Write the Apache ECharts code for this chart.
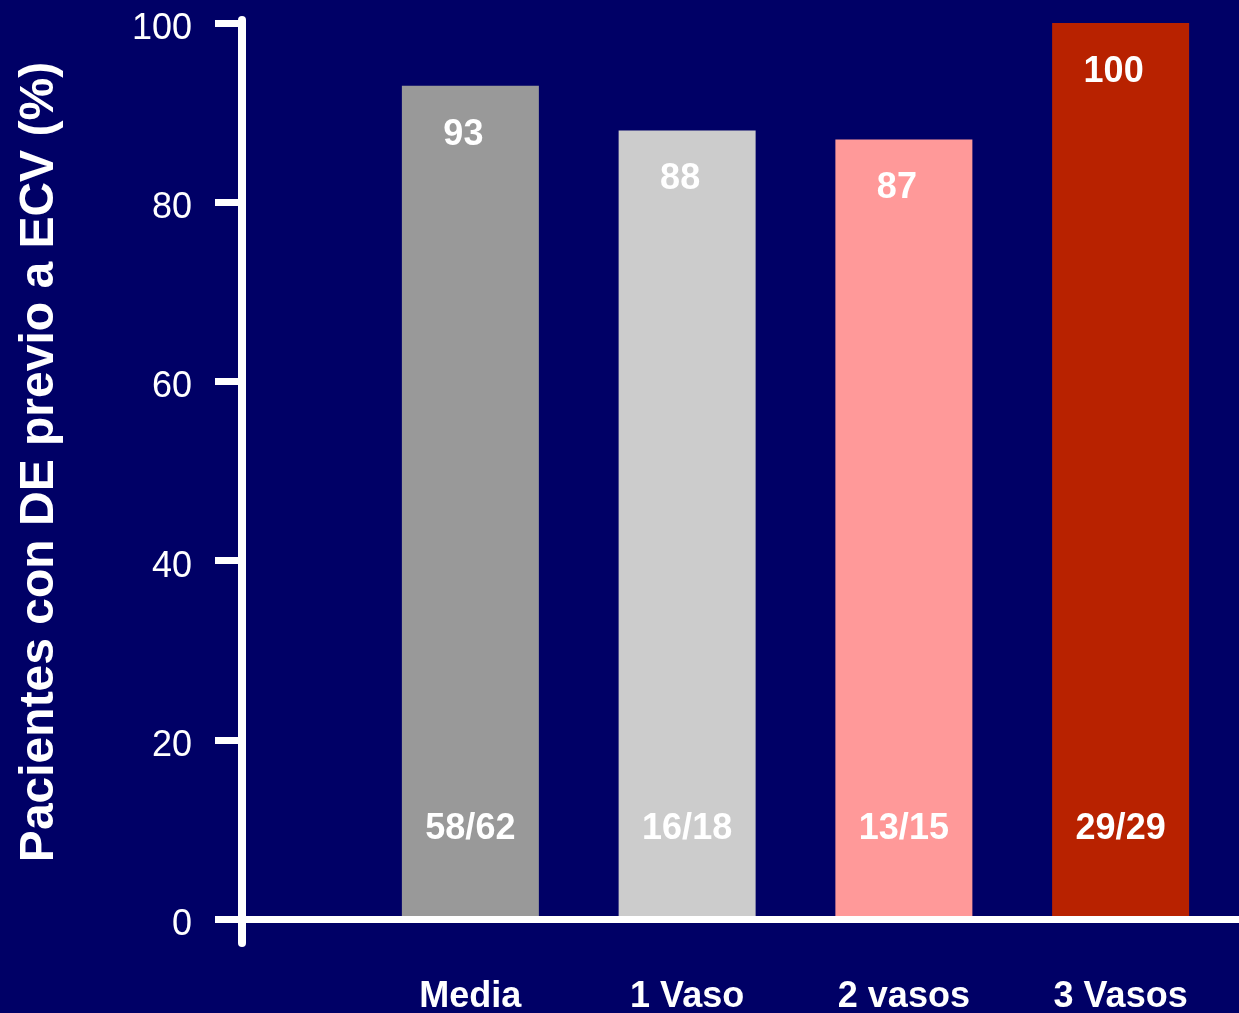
<!DOCTYPE html>
<html>
<head>
<meta charset="utf-8">
<script src="https://cdn.jsdelivr.net/npm/echarts@6/dist/echarts.min.js"></script>
<style>
  html, body { margin: 0; padding: 0; background: #000066; }
  #chart { width: 1239px; height: 1013px; }
</style>
</head>
<body>
<div id="chart"></div>
<script>
// Groups, percentage of patients, and raw counts shown at the foot of each bar
const categories = ['Media', '1 Vaso', '2 vasos', '3 Vasos'];
const percentages = [93, 88, 87, 100];
const fractions = ['58/62', '16/18', '13/15', '29/29'];
const barColors = ['#999999', '#cccccc', '#ff9999', '#b82200'];
const yTicks = [0, 20, 40, 60, 80, 100];

const FONT = '"Liberation Sans", Arial, sans-serif';
const WHITE = '#ffffff';

const chart = echarts.init(document.getElementById('chart'), null, { renderer: 'canvas' });

const option = {
  backgroundColor: '#000066',
  animation: false,
  textStyle: { fontFamily: FONT },
  grid: [
    // frame: y axis with ticks and the baseline
    { left: 242, right: 0, top: 23, bottom: 94, outerBoundsMode: 'none' },
    // bars
    { left: 362, right: 10, top: 23, bottom: 94, outerBoundsMode: 'none' },
    // y axis line running a little past the baseline
    { left: 242, right: 0, top: 20, bottom: 70, outerBoundsMode: 'none' }
  ],
  xAxis: [
    {
      gridIndex: 0, type: 'category', data: [''], z: 10,
      axisLine: { show: true, lineStyle: { color: WHITE, width: 7 } },
      axisTick: { show: false }, axisLabel: { show: false }, splitLine: { show: false }
    },
    {
      gridIndex: 1, type: 'category', data: categories,
      axisLine: { show: false }, axisTick: { show: false },
      axisLabel: {
        color: WHITE, fontFamily: FONT, fontWeight: 'bold', fontSize: 36, margin: 60
      }
    },
    { gridIndex: 2, type: 'category', data: [''], show: false }
  ],
  yAxis: [
    {
      gridIndex: 0, type: 'value', min: yTicks[0], max: yTicks[yTicks.length - 1],
      interval: yTicks[1] - yTicks[0], z: 10,
      name: 'Pacientes con DE previo a ECV (%)',
      nameLocation: 'middle', nameGap: 178, nameRotate: 90,
      nameTextStyle: {
        color: WHITE, fontFamily: FONT, fontWeight: 'bold', fontSize: 48,
        padding: [0, 0, 0, 18]
      },
      axisLine: { show: true, lineStyle: { color: WHITE, width: 8 } },
      axisTick: { show: true, inside: false, length: 27, lineStyle: { color: WHITE, width: 7 } },
      axisLabel: {
        color: WHITE, fontFamily: FONT, fontSize: 36, margin: 50,
        formatter: v => '{t|' + v + '}',
        rich: {
          t: { color: WHITE, fontFamily: FONT, fontSize: 36, padding: [12, 0, 0, 0] }
        }
      },
      splitLine: { show: false }
    },
    { gridIndex: 1, type: 'value', min: 0, max: 100, show: false },
    {
      gridIndex: 2, type: 'value', min: 0, max: 1,
      axisLine: { show: true, lineStyle: { color: WHITE, width: 8 } },
      axisTick: { show: false }, axisLabel: { show: false }, splitLine: { show: false }
    }
  ],
  series: [
    {
      type: 'bar', xAxisIndex: 1, yAxisIndex: 1,
      barWidth: 137,
      data: percentages.map((v, i) => ({ value: v, itemStyle: { color: barColors[i] } })),
      label: {
        show: true, position: 'insideTop', distance: 31, offset: [-7, 0],
        color: WHITE, fontFamily: FONT, fontWeight: 'bold', fontSize: 36
      }
    },
    {
      type: 'bar', xAxisIndex: 1, yAxisIndex: 1,
      barWidth: 137, barGap: '-100%',
      data: percentages,
      itemStyle: { color: 'rgba(0,0,0,0)' },
      label: {
        show: true, position: 'insideBottom', distance: 72,
        formatter: p => fractions[p.dataIndex],
        color: WHITE, fontFamily: FONT, fontWeight: 'bold', fontSize: 36
      }
    }
  ]
};

chart.setOption(option);
</script>
</body>
</html>
